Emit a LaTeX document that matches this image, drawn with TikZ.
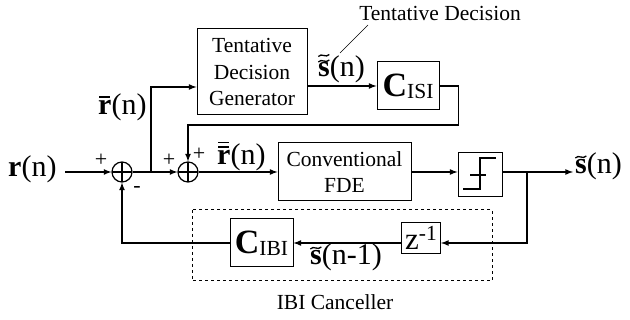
\documentclass[tikz,border=0pt]{standalone}
\usepackage{fontspec}
\setmainfont{Liberation Serif}
\usetikzlibrary{positioning,calc}

\newcommand{\bigfont}{\fontsize{30}{32}\selectfont}
% accents drawn over a label, offset from its base west
\newcommand{\acctilde}[2]{\draw[line width=1.3pt] ($(#1.base west)+(#2)+(-5.5,1)$) .. controls +(3.5,-4) and +(-3.5,4) .. ++(11,-2);}
\newcommand{\accbar}[2]{\draw[line width=1.8pt] ($(#1.base west)+(#2)+(-5.5,0)$) -- ++(11,0);}

\begin{document}
\begin{tikzpicture}[x=1pt,y=-1pt,
        font=\fontsize{21.5}{26.5}\selectfont,
        box/.style={
            rectangle,
            draw=black, line width=1pt,
            inner sep=0pt,
            align=center},
        arrow/.style={
            line width=1.6pt,
            ->,
            >=latex},
        sumnode/.style={
            circle, draw, line width=1.2pt,
            minimum size=20pt, inner sep=0pt,
            path picture={\draw[line width=1.2pt]
                (path picture bounding box.north) -- (path picture bounding box.south)
                (path picture bounding box.west) -- (path picture bounding box.east);}},
        sign/.style={
            font=\fontsize{22}{22}\selectfont,
            inner sep=0pt},
        label/.style={
            font=\bigfont,
            inner sep=0pt,
            anchor=base west}
        ]
    \useasboundingbox (0,0) rectangle (630,320);

    % blocks
    \node (tdg) [box, minimum width=110pt, minimum height=86pt] at (252,72) {Tentative\\Decision\\Generator};
    \node (cisi) [box, minimum width=62pt, minimum height=48pt] at (408,86) {{\fontsize{34}{36}\selectfont\textbf{C}}\raisebox{-2pt}{ISI}};
    \node (fde) [box, minimum width=133pt, minimum height=58pt] at (344.5,172) {Conventional\\FDE};
    \node (quant) [box, minimum width=44pt, minimum height=44pt] at (480,175) {};
    \node (zdel) [box, minimum width=39pt, minimum height=31pt] at (421,238) {{\fontsize{31}{31}\selectfont z}\raisebox{9pt}{-1}};
    \node (cibi) [box, minimum width=63pt, minimum height=48pt] at (261.5,243) {{\fontsize{34}{36}\selectfont\textbf{C}}\raisebox{-2pt}{IBI}};

    % adders
    \node (sum1) [sumnode] at (122,172) {};
    \node (sum2) [sumnode] at (188,172) {};
    \node [sign] at (101,160) {+};
    \node [sign] at (137,190) {-};
    \node [sign] at (169,160) {+};
    \node [sign] at (199,154) {+};

    % quantizer symbol
    \draw [line width=1.3pt] ($(quant.center)+(-17,14)$) -- ++(17,0) -- ++(0,-31) -- ++(16,0);
    \draw [line width=1.3pt] ($(quant.center)+(-10,0)$) -- ++(16,0);

    % signals
    \node (rin) [label] at (8,177) {\textbf{r}(n)};
    \coordinate (in) at (65,172);
    \coordinate (split1) at (151,172);
    \coordinate (split2) at (527,172);
    \coordinate (out) at (573,172);
    \coordinate (fb) at (188,125);
    \node (sout) [label] at (575,174) {\textbf{s}(n)};
    \node (rbar) [label] at (98,115) {\textbf{r}(n)};
    \node (rdbar) [label] at (217,165) {\textbf{r}(n)};
    \node (sdt) [label] at (318,77) {\textbf{s}(n)};
    \node (sprev) [label] at (310,265) {\textbf{s}(n-1)};
    \acctilde{sout}{5.8,-17}
    \acctilde{sprev}{5.8,-17}
    \acctilde{sdt}{5.8,-16}
    \acctilde{sdt}{5.8,-21.5}
    \accbar{rbar}{6.5,-18}
    \accbar{rdbar}{6.5,-18}
    \accbar{rdbar}{6.5,-22.5}
    \node (tdlab) at (440,13) {Tentative Decision};
    \draw [line width=0.6pt] (368,25) -- (340,53);

    % dashed frame
    \draw [dashed, line width=1pt] (192,210) rectangle (492,281);
    \node (ibilab) at (335,302) {IBI Canceller};

    \draw [arrow] (in) -- (sum1.west);
    \draw [arrow] (sum1.east) -- (sum2.west);
    \draw [arrow] (split1) |- ([yshift=-15pt]tdg.west);
    \draw [arrow] (tdg.east |- cisi) -- (cisi.west);
    \draw [arrow] (cisi.east) -- ++(19,0) |- (fb) -- (sum2.north);
    \draw [arrow] (sum2.east) -- (fde.west);
    \draw [arrow] (fde.east) -- (fde.east -| quant.west);
    \draw [arrow] (quant.east |- fde.east) -- (out);
    \draw [arrow] (split2) |- (zdel.east |- cibi);
    \draw [arrow] (zdel.west |- cibi) -- (cibi.east);
    \draw [arrow] (cibi.west) -| (sum1.south);

\end{tikzpicture}
\end{document}
